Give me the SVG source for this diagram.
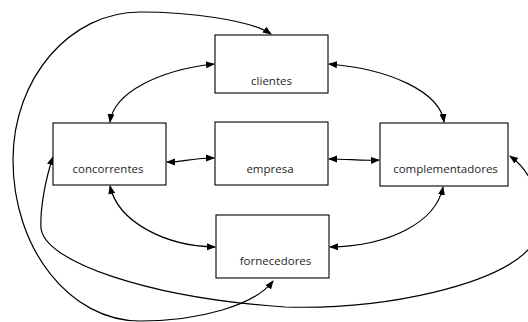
<svg xmlns="http://www.w3.org/2000/svg" width="528" height="322" viewBox="0 0 528 322">
<style>
.box{fill:#fff;stroke:#000;stroke-width:1.1}
.lbl{font-family:"Open Sans","Noto Sans",sans-serif;font-size:11.5px;fill:#262626;text-anchor:middle}
.c{fill:none;stroke:#000;stroke-width:1.2}
</style>
<defs>
<marker id="ah" markerUnits="userSpaceOnUse" markerWidth="9" markerHeight="8" refX="8" refY="3.5" orient="auto-start-reverse" viewBox="0 0 9 7">
<path d="M0,0 L9,3.5 L0,7 z" fill="#000"/>
</marker>
</defs>
<rect width="528" height="322" fill="#fff"/>
<g id="connectors">
<path class="c" marker-start="url(#ah)" marker-end="url(#ah)" d="M214,64 C160,70 114,92 110,122"/>
<path class="c" marker-start="url(#ah)" marker-end="url(#ah)" d="M329,64 C390,69 440,92 444,122"/>
<path class="c" marker-start="url(#ah)" marker-end="url(#ah)" d="M110,186 C118,222 165,246 215,247"/>
<path class="c" marker-start="url(#ah)" marker-end="url(#ah)" d="M443,187 C436,222 390,246 330,247"/>
<path class="c" marker-start="url(#ah)" marker-end="url(#ah)" d="M167,162 C185,162 192,158 214,158"/>
<path class="c" marker-start="url(#ah)" marker-end="url(#ah)" d="M329,159 C350,159 360,161 379,160"/>
<path class="c" marker-start="url(#ah)" marker-end="url(#ah)" d="M273,281 C255,305 200,321 140,321 C70,321 13,249 13,160 C13,78 70,12 140,12 C190,12 250,20 271,34"/>
<path class="c" marker-start="url(#ah)" marker-end="url(#ah)" d="M53,157 C45,180 40,210 41,228 C44,262 150,298 285,307 C390,310 495,284 528,250 C548,224 540,178 510,156"/>
</g>
<g id="clientes"><rect class="box" x="215" y="35" width="113" height="58"/><text class="lbl" x="271.5" y="85">clientes</text></g>
<g id="concorrentes"><rect class="box" x="53" y="123" width="113" height="62"/><text class="lbl" x="108" y="173">concorrentes</text></g>
<g id="empresa"><rect class="box" x="215" y="122" width="113" height="63"/><text class="lbl" x="270" y="173">empresa</text></g>
<g id="complementadores"><rect class="box" x="380" y="123" width="128" height="63"/><text class="lbl" x="445.5" y="173">complementadores</text></g>
<g id="fornecedores"><rect class="box" x="216" y="215" width="113" height="63"/><text class="lbl" x="275.5" y="265">fornecedores</text></g>
</svg>
